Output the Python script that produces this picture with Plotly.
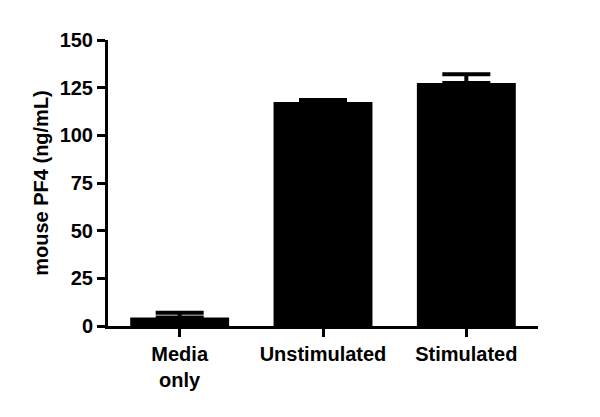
import plotly.graph_objects as go

categories = ["Media<br>only", "Unstimulated", "Stimulated"]
values = [4.5, 117.5, 127.5]
errors = [2.5, 1.0, 4.5]

fig = go.Figure(go.Bar(
    x=categories, y=values,
    marker=dict(color="black", line=dict(color="black", width=0)),
    width=0.69,
    error_y=dict(type="data", array=errors, symmetric=False, arrayminus=[0, 0, 0],
                 color="black", thickness=4, width=24),
))
f = dict(family="Liberation Sans, Arial", size=20, color="black", weight="bold")
fig.update_layout(
    width=600, height=417, margin=dict(l=100, r=70, t=32, b=99),
    plot_bgcolor="white", paper_bgcolor="white", showlegend=False,
    font=f,
)
fig.update_xaxes(showline=True, linecolor="black", linewidth=3, ticks="outside",
                 tickwidth=3, ticklen=8, tickcolor="black", range=[-0.5, 2.5],
                 tickfont=f)
fig.update_yaxes(showline=True, linecolor="black", linewidth=3, ticks="outside",
                 tickwidth=3, ticklen=8, tickcolor="black", range=[0, 150],
                 tickvals=[0, 25, 50, 75, 100, 125, 150], showgrid=False, zeroline=False,
                 tickfont=f, title=dict(text="mouse PF4 (ng/mL)", standoff=6, font=f))
fig.write_html("out.html")
